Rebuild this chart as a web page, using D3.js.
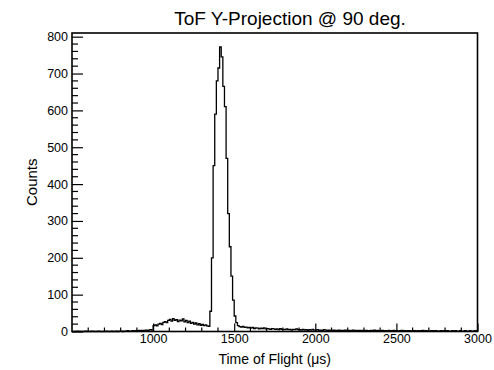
<!DOCTYPE html>
<html>
<head>
<meta charset="utf-8">
<script src="https://cdn.jsdelivr.net/npm/d3@7"></script>
<style>
  body { margin: 0; background: #fff; }
  text { font-family: "Liberation Sans", Arial, Helvetica, sans-serif; fill: #000; }
</style>
</head>
<body>
<script>
// histogram settings
var xMin = 500, xMax = 3000, binWidth = 10;
var yMax = 810;

var xMajorTicks = [1000, 1500, 2000, 2500, 3000];
var yMajorTicks = [0, 100, 200, 300, 400, 500, 600, 700, 800];

// counts per 10 us bin, one line = 100 us
var counts = [
  0, 0, 0, 1, 0, 0, 0, 0, 1, 0,          // 500
  0, 0, 1, 0, 0, 0, 1, 0, 0, 0,          // 600
  0, 1, 0, 0, 1, 0, 0, 1, 0, 1,          // 700
  1, 0, 1, 1, 2, 1, 1, 2, 1, 2,          // 800
  2, 3, 2, 3, 2, 4, 3, 4, 5, 4,          // 900
  16, 18, 15, 20, 22, 19, 25, 27, 24, 30, // 1000
  33, 28, 35, 30, 32, 27, 31, 29, 34, 26, // 1100
  30, 24, 28, 22, 25, 20, 23, 18, 21, 17, // 1200
  19, 16, 18, 15, 14, 55, 200, 450, 590, 680, // 1300
  715, 772, 745, 665, 610, 470, 320, 230, 150, 85, // 1400
  42, 24, 16, 13, 12, 14, 11, 12, 10, 11, // 1500
  9, 11, 8, 10, 9, 7, 9, 8, 10, 7,       // 1600
  8, 7, 6, 8, 7, 6, 7, 5, 8, 6,          // 1700
  6, 5, 7, 5, 6, 4, 6, 5, 7, 5,          // 1800
  5, 4, 6, 4, 5, 3, 5, 4, 6, 4,          // 1900
  4, 5, 3, 4, 3, 5, 4, 3, 4, 3,          // 2000
  3, 4, 3, 2, 4, 3, 3, 2, 4, 3,          // 2100
  3, 2, 3, 4, 2, 3, 2, 3, 2, 3,          // 2200
  2, 3, 2, 2, 3, 2, 4, 2, 3, 2,          // 2300
  2, 3, 2, 2, 1, 3, 2, 2, 3, 2,          // 2400
  2, 1, 2, 3, 2, 2, 1, 2, 2, 1,          // 2500
  2, 2, 1, 2, 1, 2, 3, 1, 2, 1,          // 2600
  1, 2, 2, 1, 2, 1, 1, 2, 1, 2,          // 2700
  1, 2, 1, 1, 2, 1, 2, 1, 1, 2,          // 2800
  1, 1, 2, 1, 1, 2, 1, 1, 2, 1           // 2900
];

var width = 494, height = 370;
var frame = { left: 72, right: 477.5, top: 33, bottom: 331.5 };

var svg = d3.select("body").append("svg")
  .attr("width", width)
  .attr("height", height);

var x = d3.scaleLinear().domain([xMin, xMax]).range([frame.left, frame.right]);
var y = d3.scaleLinear().domain([0, yMax]).range([frame.bottom, frame.top]);

// histogram outline as steps
var pts = [];
counts.forEach(function(c, i) {
  var x0 = xMin + i * binWidth;
  pts.push([x0, c]);
  pts.push([x0 + binWidth, c]);
});
var line = d3.line()
  .x(function(d) { return x(d[0]); })
  .y(function(d) { return y(d[1]); });

svg.append("path")
  .attr("d", line(pts))
  .attr("fill", "none")
  .attr("stroke", "#000")
  .attr("stroke-width", 1.3);

// x axis ticks (major every 500, minor every 100)
var xAxis = d3.axisBottom(x)
  .tickValues(xMajorTicks)
  .tickSizeInner(-8)
  .tickSizeOuter(0)
  .tickPadding(3)
  .tickFormat(d3.format("d"));
var gx = svg.append("g")
  .attr("transform", "translate(0," + frame.bottom + ")")
  .call(xAxis);
gx.select(".domain").remove();
gx.selectAll("text").attr("font-size", 12.5).attr("font-family", null);
gx.selectAll("line").attr("stroke-width", 1.2);
gx.selectAll(".minor").data(d3.range(600, 3000, 100).filter(function(v) { return v % 500 != 0; }))
  .enter().append("line")
  .attr("x1", function(d) { return x(d); })
  .attr("x2", function(d) { return x(d); })
  .attr("y1", 0).attr("y2", -4)
  .attr("stroke", "#000").attr("stroke-width", 1.2);

// y axis ticks (major every 100, minor every 20)
var yAxis = d3.axisLeft(y)
  .tickValues(yMajorTicks)
  .tickSizeInner(-11)
  .tickSizeOuter(0)
  .tickPadding(4);
var gy = svg.append("g")
  .attr("transform", "translate(" + frame.left + ",0)")
  .call(yAxis);
gy.select(".domain").remove();
gy.selectAll("text").attr("font-size", 12.5).attr("font-family", null);
gy.selectAll("line").attr("stroke-width", 1.2);
gy.selectAll(".minor").data(d3.range(20, 810, 20).filter(function(v) { return v % 100 != 0; }))
  .enter().append("line")
  .attr("x1", 0).attr("x2", 6)
  .attr("y1", function(d) { return y(d); })
  .attr("y2", function(d) { return y(d); })
  .attr("stroke", "#000").attr("stroke-width", 1.2);

// frame
svg.append("rect")
  .attr("x", frame.left)
  .attr("y", frame.top)
  .attr("width", frame.right - frame.left)
  .attr("height", frame.bottom - frame.top)
  .attr("fill", "none")
  .attr("stroke", "#000")
  .attr("stroke-width", 1.6);

// titles
svg.append("text")
  .attr("x", 290)
  .attr("y", 25)
  .attr("text-anchor", "middle")
  .attr("font-size", 19)
  .text("ToF Y-Projection @ 90 deg.");

svg.append("text")
  .attr("x", (frame.left + frame.right) / 2)
  .attr("y", 364)
  .attr("text-anchor", "middle")
  .attr("font-size", 14)
  .text("Time of Flight (\u03bcs)");

svg.append("text")
  .attr("transform", "translate(37," + (frame.top + frame.bottom) / 2 + ") rotate(-90)")
  .attr("text-anchor", "middle")
  .attr("font-size", 15)
  .text("Counts");
</script>
</body>
</html>
